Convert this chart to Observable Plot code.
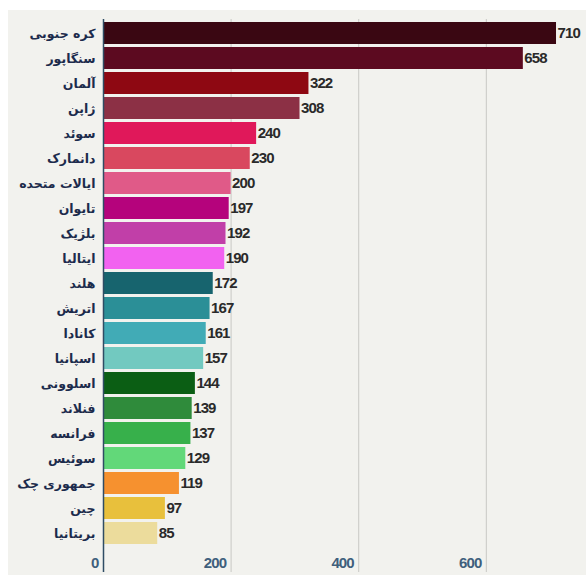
<!DOCTYPE html>
<html><head><meta charset="utf-8">
<script src="https://cdn.jsdelivr.net/npm/d3@7"></script>
<script src="https://cdn.jsdelivr.net/npm/@observablehq/plot@0.6"></script>
<style>
body{margin:0;background:#fff;}
#wrap{position:relative;width:586px;height:575px;}
#bg{position:absolute;left:8px;top:10px;right:0;bottom:0;background:#f2f2ee;}
#chart{position:absolute;left:0;top:0;}
.narrow text{letter-spacing:-0.9px;}
</style></head>
<body><div id="wrap"><div id="bg"></div><div id="chart"></div></div>
<script>
const countries = ["کره جنوبی","سنگاپور","آلمان","ژاپن","سوئد","دانمارک","ایالات متحده","تایوان","بلژیک","ایتالیا","هلند","اتریش","کانادا","اسپانیا","اسلوونی","فنلاند","فرانسه","سوئیس","جمهوری چک","چین","بریتانیا"];
const values = [710,658,322,308,240,230,200,197,192,190,172,167,161,157,144,139,137,129,119,97,85];
const colors = ["#3a0712","#5c0a20","#8e0812","#8c3045","#e0185a","#d9485f","#e05a88","#b5037c","#c13fa8","#f262f0","#17646e","#2b8f97","#41abb6","#72c9c0","#0b5e14","#2f8b3b","#37b04b","#62d879","#f6912f","#e8c03c","#ecdc9c"];
const ticks = [0,200,400,600];
const data = countries.map((c,i)=>({country:c,value:values[i],color:colors[i]}));

const numFont = "'Liberation Sans Narrow','Arial Narrow','Liberation Sans',sans-serif";
const chart = Plot.plot({
  width:586, height:575,
  marginTop:19, marginBottom:3, marginLeft:103, marginRight:0,
  style:{background:"transparent"},
  x:{domain:[0,757], ticks:ticks},
  y:{domain:countries, padding:0.12, insetBottom:25},
  marks:[
    Plot.gridX([200,400,600], {stroke:"#c8c8c4", strokeOpacity:1, strokeWidth:1}),
    Plot.barX(data, {y:"country", x:"value", fill:"color"}),
    Plot.text(data, {y:"country", x:"value", text:d=>String(d.value), textAnchor:"start", dx:1, fill:"#2a2a2a", fontSize:15, fontWeight:"bold", fontFamily:numFont, className:"narrow"}),
    Plot.axisY({tickSize:0, tickPadding:8, fontSize:12.5, fontWeight:"bold", fill:"#1c2b4c", fontFamily:"'DejaVu Sans',sans-serif", label:null}),
    Plot.axisX(ticks, {anchor:"bottom", tickSize:0, dy:-24, dx:-5, textAnchor:"end", fontSize:15, fontWeight:"bold", fill:"#3f5f7c", fontFamily:numFont, label:null, className:"narrow"}),
    Plot.ruleX([0], {stroke:"#2f4c64", strokeWidth:1.5})
  ]
});
document.getElementById("chart").appendChild(chart);
</script></body></html>
